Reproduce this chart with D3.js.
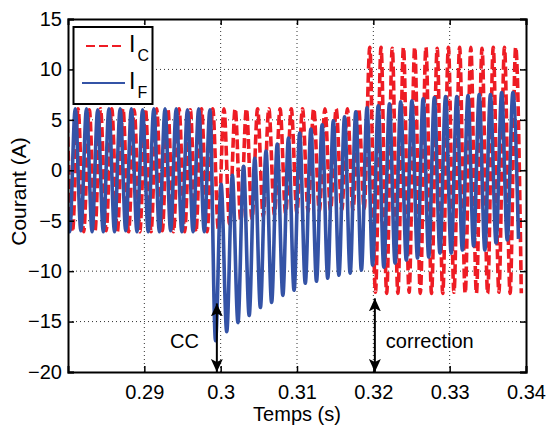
<!DOCTYPE html>
<html>
<head>
<meta charset="utf-8">
<script src="https://cdn.jsdelivr.net/npm/d3@7/dist/d3.min.js"></script>
<style>
  html, body { margin: 0; padding: 0; background: #fff; }
  svg { display: block; font-family: "Liberation Sans", Arial, Helvetica, sans-serif; }
</style>
</head>
<body>
<svg id="chart" width="546" height="427"></svg>
<script>
// ---- data ----
const xTicks = [0.29, 0.30, 0.31, 0.32, 0.33, 0.34];
const xTickLabels = ["0.29", "0.3", "0.31", "0.32", "0.33", "0.34"];
const yTicks = [-20, -15, -10, -5, 0, 5, 10, 15];

// extrema of the oscillating currents, sampled every half period
const extremaStart = 0.27948;   // time of first extremum (s)
const halfPeriod = 0.000735;    // s
const redShift = 0.00037;       // phase lag of I_C (s)

const seriesIF = [
  6.1,-6.1, 6.1,-6.0, 6.1,-6.1, 6.0,-6.1, 6.1,-6.1, 6.1,-6.0, 6.1,-6.1,
  6.0,-6.1, 6.1,-6.1, 6.1,-6.0, 6.1,-6.1, 6.0,-6.1, 6.1,-6.1,
  6.0,-16.9,-1.4,-16.0,-0.5,-15.1, 0.4,-14.4, 1.2,-13.6, 1.9,-13.1, 2.6,-12.4,
  3.2,-11.9, 3.7,-11.2, 4.1,-11.0, 4.5,-10.7, 4.9,-10.4, 5.3,-10.2, 5.8,-9.9,
  6.2,-9.4, 6.4,-9.6, 6.6,-9.2, 6.8,-8.9, 6.9,-8.7, 7.1,-8.6, 7.2,-8.2,
  7.3,-8.2, 7.3,-7.9, 7.4,-7.5, 7.5,-7.9, 7.5,-7.2, 7.7,-6.9, 7.7,-6.8
];
const seriesIC = [
  6.1,-6.1, 6.1,-6.1, 6.0,-6.1, 6.1,-6.0, 6.1,-6.1, 6.1,-6.1, 6.0,-6.1,
  6.1,-6.1, 6.1,-6.0, 6.1,-6.1, 6.1,-6.1, 6.0,-6.1, 6.1,-6.1,
  6.1,-5.8, 6.1,-5.3, 6.1,-5.0, 6.1,-4.8, 6.1,-4.6, 6.1,-4.4, 6.1,-4.3,
  6.1,-4.2, 6.1,-4.1, 6.1,-4.0, 6.1,-4.0, 6.1,-3.9, 6.1,-3.9, 6.1,-3.8,
  12.2,-12.1, 12.2,-12.2, 12.1,-12.2, 12.2,-12.1, 12.2,-12.2, 12.2,-12.2, 12.1,-12.2,
  12.2,-12.1, 12.2,-12.2, 12.2,-12.2, 12.1,-12.2, 12.2,-12.1, 12.2,-12.2, 12.2,-12.2
];

const seriesNames = ["C", "F"];
const annotations = [
  { label: "CC", t: 0.2995, top: -13.2, side: "left" },
  { label: "correction", t: 0.3202, top: -12.7, side: "right" }
];

// ---- layout ----
const svg = d3.select("#chart");
const margin = { left: 68, right: 20, top: 19, bottom: 55 };
const W = 546, H = 427;
const x = d3.scaleLinear().domain([0.28, 0.34]).range([margin.left, W - margin.right]);
const y = d3.scaleLinear().domain([-20, 15]).range([H - margin.bottom, margin.top]);
const x0 = x.range()[0], x1 = x.range()[1], yb = y.range()[0], yt = y.range()[1];

const blue = "#3453a6", red = "#ee1c24";
const fontSize = 20;

// grid
const grid = svg.append("g");
grid.selectAll(".gx").data(xTicks.filter(d => d < 0.34)).enter().append("line")
  .attr("x1", d => x(d)).attr("x2", d => x(d)).attr("y1", yb).attr("y2", yt)
  .attr("stroke", "#333").attr("stroke-width", 1).attr("stroke-dasharray", "1,3");
grid.selectAll(".gy").data(yTicks.filter(d => d > -20 && d < 15)).enter().append("line")
  .attr("y1", d => y(d)).attr("y2", d => y(d)).attr("x1", x0).attr("x2", x1)
  .attr("stroke", "#333").attr("stroke-width", 1).attr("stroke-dasharray", "1,3");

// clip
svg.append("defs").append("clipPath").attr("id", "clip")
  .append("rect").attr("x", x0).attr("y", yt).attr("width", x1 - x0).attr("height", yb - yt);

const toPoints = (vals, shift) => vals.map((v, i) => [extremaStart + shift + i * halfPeriod, v]);
const line = d3.line().x(d => x(d[0])).y(d => y(d[1])).curve(d3.curveMonotoneX);

const plot = svg.append("g").attr("clip-path", "url(#clip)");
plot.append("path").datum(toPoints(seriesIC, redShift))
  .attr("d", line).attr("fill", "none").attr("stroke", red)
  .attr("stroke-width", 3.6).attr("stroke-dasharray", "10,4");
plot.append("path").datum(toPoints(seriesIF, 0))
  .attr("d", line).attr("fill", "none").attr("stroke", blue)
  .attr("stroke-width", 3.6);

// axes box
const axB = svg.append("g").attr("transform", `translate(0,${yb})`)
  .call(d3.axisBottom(x).tickValues(xTicks).tickFormat((d, i) => xTickLabels[i]).tickSize(-6));
const axT = svg.append("g").attr("transform", `translate(0,${yt})`)
  .call(d3.axisTop(x).tickValues(xTicks).tickFormat("").tickSize(-6));
const axL = svg.append("g").attr("transform", `translate(${x0},0)`)
  .call(d3.axisLeft(y).tickValues(yTicks).tickFormat(d3.format("d")).tickSize(-6).tickPadding(6));
const axR = svg.append("g").attr("transform", `translate(${x1},0)`)
  .call(d3.axisRight(y).tickValues(yTicks).tickFormat("").tickSize(-6));
[axB, axT, axL, axR].forEach(a => {
  a.select(".domain").attr("stroke", "#000").attr("stroke-width", 2);
  a.selectAll(".tick line").attr("stroke", "#000").attr("stroke-width", 1.5);
  a.selectAll("text").attr("font-size", fontSize).attr("fill", "#000")
    .attr("font-family", "Liberation Sans, Arial, sans-serif");
});
axB.selectAll(".tick text").attr("dy", null).attr("y", 27);

// axis titles
svg.append("text").attr("x", (x0 + x1) / 2).attr("y", 421)
  .attr("text-anchor", "middle").attr("font-size", fontSize).text("Temps (s)");
svg.append("text").attr("transform", `translate(26,${(yt + yb) / 2 - 4}) rotate(-90)`)
  .attr("text-anchor", "middle").attr("font-size", 21).text("Courant (A)");

// annotations (double arrows)
const defs = svg.select("defs");
defs.append("marker").attr("id", "ah").attr("viewBox", "0 0 13 12")
  .attr("refX", 13).attr("refY", 6).attr("markerWidth", 13).attr("markerHeight", 12)
  .attr("markerUnits", "userSpaceOnUse").attr("orient", "auto-start-reverse")
  .append("path").attr("d", "M0,0 L13,6 L0,12 L3,6 Z").attr("fill", "#000");
annotations.forEach(a => {
  svg.append("line").attr("x1", x(a.t)).attr("x2", x(a.t))
    .attr("y1", y(a.top)).attr("y2", y(-20))
    .attr("stroke", "#000").attr("stroke-width", 2)
    .attr("marker-start", "url(#ah)").attr("marker-end", "url(#ah)");
  svg.append("text")
    .attr("x", a.side === "left" ? x(a.t) - 18 : x(a.t) + 11)
    .attr("y", y(-17.6))
    .attr("text-anchor", a.side === "left" ? "end" : "start")
    .attr("font-size", fontSize).text(a.label);
});

// legend
const lg = svg.append("g");
lg.append("rect").attr("x", 73.5).attr("y", 27).attr("width", 79).attr("height", 77)
  .attr("fill", "#fff").attr("stroke", "#000").attr("stroke-width", 2);
const legendRows = [
  { name: seriesNames[0], color: red, dash: "9,4", ly: 46 },
  { name: seriesNames[1], color: blue, dash: null, ly: 83 }
];
legendRows.forEach(r => {
  lg.append("line").attr("x1", r.dash ? 86 : 82).attr("x2", 125).attr("y1", r.ly).attr("y2", r.ly)
    .attr("stroke", r.color).attr("stroke-width", 2).attr("stroke-dasharray", r.dash);
  const t = lg.append("text").attr("x", 129).attr("y", r.ly + 6).attr("font-size", 23);
  t.append("tspan").text("I");
  t.append("tspan").attr("dx", 2).attr("dy", 9).attr("font-size", 16).text(r.name);
});
</script>
</body>
</html>
